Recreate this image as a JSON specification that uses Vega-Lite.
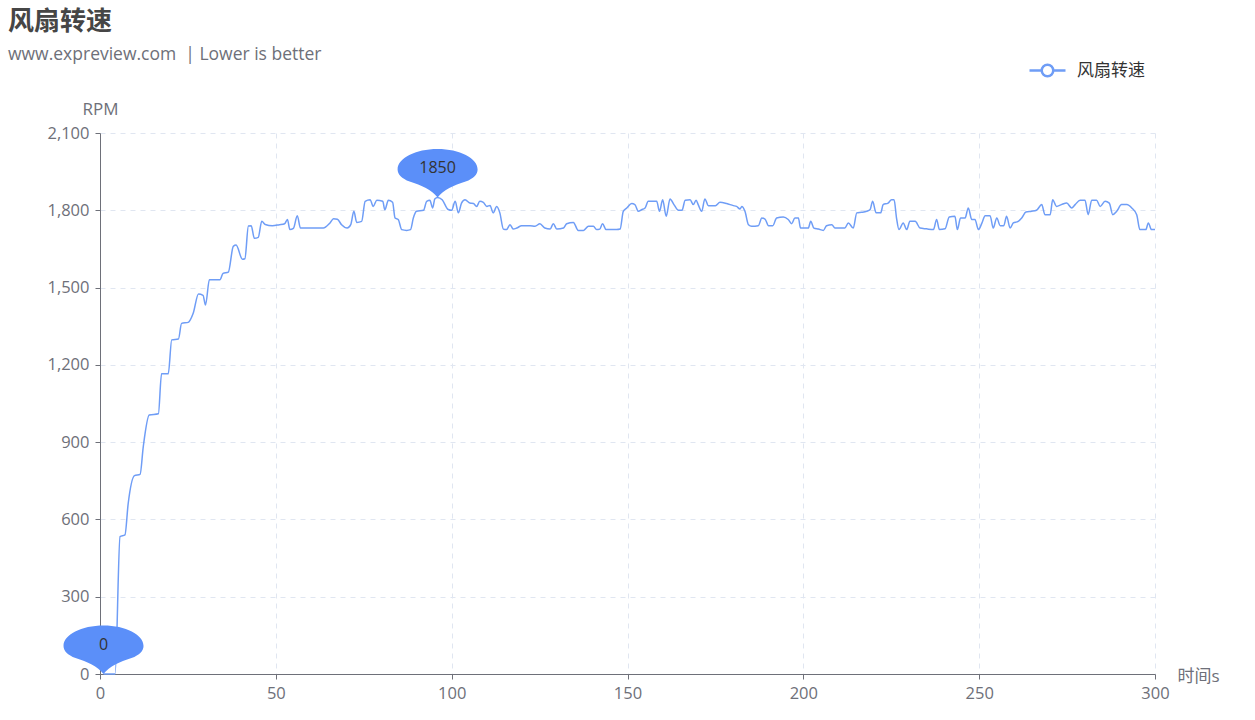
{
  "$schema": "https://vega.github.io/schema/vega-lite/v6.json",
  "width": 1055,
  "height": 541,
  "autosize": {"type": "none"},
  "padding": {"left": 100, "top": 133, "right": 100, "bottom": 46},
  "background": "white",
  "title": {
    "text": "风扇转速",
    "subtitle": "www.expreview.com\u00a0\u00a0| Lower is better",
    "anchor": "start",
    "frame": "group",
    "dx": -92,
    "offset": -12,
    "fontSize": 26,
    "fontWeight": "bold",
    "color": "#464646",
    "font": "Noto Sans CJK SC",
    "subtitleFont": "Open Sans, Noto Sans CJK SC",
    "subtitleFontSize": 17.5,
    "subtitleColor": "#6e7079",
    "subtitlePadding": 11
  },
  "config": {
    "view": {"stroke": null},
    "font": "Open Sans, Noto Sans CJK SC",
    "axis": {
      "labelFont": "Open Sans, Noto Sans CJK SC",
      "labelFontSize": 16.5,
      "labelColor": "#6e7079",
      "titleFont": "Open Sans, Noto Sans CJK SC",
      "titleFontSize": 17,
      "titleFontWeight": "normal",
      "titleColor": "#6e7079",
      "domainColor": "#6e7079",
      "tickColor": "#6e7079",
      "tickSize": 5,
      "gridColor": "#e0e6f1",
      "gridDash": [5, 5],
      "gridWidth": 1
    }
  },
  "layer": [
    {
      "data": {
        "values": [
          {"t":1,"v":0},{"t":2,"v":0},{"t":3,"v":0},{"t":4,"v":0},{"t":4.3,"v":0},{"t":5.7,"v":533},{"t":7.1,"v":540},{"t":8,"v":660},{"t":9.8,"v":770},{"t":11.4,"v":775},{"t":12.3,"v":882},{"t":14,"v":1005},{"t":16.6,"v":1010},{"t":17.5,"v":1165},{"t":19.4,"v":1165},{"t":20.4,"v":1297},{"t":22.3,"v":1300},{"t":23.2,"v":1361},{"t":25.1,"v":1365},{"t":26.5,"v":1400},{"t":28,"v":1475},{"t":29.3,"v":1470},{"t":30,"v":1432},{"t":31.1,"v":1530},{"t":34.1,"v":1530},{"t":35,"v":1555},{"t":36.5,"v":1560},{"t":37.9,"v":1660},{"t":38.7,"v":1665},{"t":40.5,"v":1610},{"t":41.2,"v":1612},{"t":42.2,"v":1739},{"t":43,"v":1740},{"t":43.9,"v":1691},{"t":45,"v":1695},{"t":46,"v":1757},{"t":47,"v":1745},{"t":49,"v":1740},{"t":51,"v":1744},{"t":52.5,"v":1748},{"t":53.3,"v":1764},{"t":54,"v":1725},{"t":55,"v":1730},{"t":56.1,"v":1779},{"t":57,"v":1731},{"t":58,"v":1731},{"t":63.5,"v":1731},{"t":65.4,"v":1751},{"t":66.4,"v":1767},{"t":67.5,"v":1765},{"t":68.7,"v":1744},{"t":70.3,"v":1731},{"t":71.3,"v":1744},{"t":72.2,"v":1796},{"t":73,"v":1753},{"t":74.4,"v":1757},{"t":75.4,"v":1835},{"t":76.8,"v":1841},{"t":77.7,"v":1815},{"t":78.7,"v":1839},{"t":80.4,"v":1835},{"t":81,"v":1802},{"t":82,"v":1839},{"t":83.2,"v":1831},{"t":83.9,"v":1770},{"t":84.8,"v":1764},{"t":85.8,"v":1725},{"t":87.2,"v":1722},{"t":88.3,"v":1725},{"t":89.1,"v":1770},{"t":90,"v":1796},{"t":92,"v":1800},{"t":92.9,"v":1835},{"t":93.8,"v":1839},{"t":94.6,"v":1809},{"t":95.2,"v":1844},{"t":96,"v":1850},{"t":97.3,"v":1841},{"t":99,"v":1803},{"t":100,"v":1800},{"t":101,"v":1835},{"t":101.9,"v":1790},{"t":102.8,"v":1828},{"t":103.8,"v":1841},{"t":105.2,"v":1828},{"t":106.2,"v":1826},{"t":107.1,"v":1815},{"t":108,"v":1835},{"t":109,"v":1831},{"t":110,"v":1815},{"t":110.9,"v":1819},{"t":111.8,"v":1790},{"t":112.8,"v":1815},{"t":113.7,"v":1790},{"t":114.7,"v":1727},{"t":115.6,"v":1725},{"t":116.6,"v":1744},{"t":117.5,"v":1727},{"t":118.5,"v":1731},{"t":119.9,"v":1740},{"t":122.3,"v":1740},{"t":123.7,"v":1738},{"t":125.1,"v":1748},{"t":126.5,"v":1731},{"t":128,"v":1727},{"t":128.9,"v":1748},{"t":129.9,"v":1727},{"t":131.8,"v":1731},{"t":132.7,"v":1748},{"t":134.6,"v":1753},{"t":136,"v":1722},{"t":137.5,"v":1722},{"t":138.9,"v":1738},{"t":140.3,"v":1738},{"t":141.2,"v":1725},{"t":142.1,"v":1727},{"t":142.9,"v":1748},{"t":143.9,"v":1725},{"t":146.9,"v":1725},{"t":147.9,"v":1727},{"t":148.8,"v":1796},{"t":149.8,"v":1809},{"t":151.2,"v":1826},{"t":152.1,"v":1822},{"t":153.1,"v":1796},{"t":154,"v":1802},{"t":155,"v":1809},{"t":155.9,"v":1835},{"t":158.3,"v":1835},{"t":159.1,"v":1796},{"t":160,"v":1841},{"t":161,"v":1777},{"t":162.1,"v":1844},{"t":163.2,"v":1822},{"t":164.5,"v":1800},{"t":165.5,"v":1800},{"t":166.4,"v":1839},{"t":167.8,"v":1841},{"t":168.7,"v":1822},{"t":169.5,"v":1839},{"t":170.1,"v":1822},{"t":171.1,"v":1796},{"t":172,"v":1844},{"t":173,"v":1818},{"t":175,"v":1818},{"t":176.3,"v":1831},{"t":178.2,"v":1826},{"t":180.1,"v":1818},{"t":181,"v":1815},{"t":182,"v":1805},{"t":182.5,"v":1815},{"t":183.4,"v":1796},{"t":184.4,"v":1744},{"t":185.3,"v":1738},{"t":187.2,"v":1740},{"t":188.2,"v":1770},{"t":189.1,"v":1766},{"t":190.1,"v":1740},{"t":191.3,"v":1740},{"t":192.4,"v":1770},{"t":194.3,"v":1774},{"t":195.7,"v":1764},{"t":196.7,"v":1748},{"t":197.6,"v":1770},{"t":198.6,"v":1770},{"t":199.2,"v":1731},{"t":201.4,"v":1731},{"t":202.1,"v":1757},{"t":203,"v":1731},{"t":204.3,"v":1727},{"t":205.7,"v":1722},{"t":206.6,"v":1740},{"t":208.1,"v":1744},{"t":209,"v":1731},{"t":211.8,"v":1731},{"t":212.8,"v":1751},{"t":214.2,"v":1731},{"t":215.2,"v":1790},{"t":216.6,"v":1792},{"t":218,"v":1796},{"t":219,"v":1803},{"t":219.7,"v":1835},{"t":220.7,"v":1790},{"t":222,"v":1790},{"t":222.7,"v":1822},{"t":224.1,"v":1828},{"t":225.1,"v":1841},{"t":225.8,"v":1841},{"t":226.5,"v":1770},{"t":227.2,"v":1725},{"t":228.4,"v":1751},{"t":229.4,"v":1725},{"t":230.3,"v":1757},{"t":231.8,"v":1757},{"t":233.2,"v":1731},{"t":235,"v":1728},{"t":237,"v":1725},{"t":237.9,"v":1764},{"t":238.7,"v":1725},{"t":240.3,"v":1728},{"t":241.5,"v":1774},{"t":243.1,"v":1777},{"t":243.8,"v":1725},{"t":244.7,"v":1770},{"t":246,"v":1770},{"t":246.9,"v":1809},{"t":247.9,"v":1764},{"t":248.8,"v":1764},{"t":249.8,"v":1725},{"t":250.8,"v":1751},{"t":251.7,"v":1779},{"t":253.1,"v":1779},{"t":254,"v":1731},{"t":255,"v":1770},{"t":256,"v":1740},{"t":257,"v":1740},{"t":257.8,"v":1777},{"t":258.8,"v":1731},{"t":259.7,"v":1751},{"t":261.1,"v":1757},{"t":262.1,"v":1770},{"t":263.3,"v":1793},{"t":264.9,"v":1796},{"t":266.3,"v":1800},{"t":267.8,"v":1822},{"t":268.7,"v":1783},{"t":270.2,"v":1783},{"t":270.9,"v":1841},{"t":272,"v":1815},{"t":273.4,"v":1822},{"t":274.9,"v":1828},{"t":276.3,"v":1809},{"t":277.3,"v":1822},{"t":278.7,"v":1839},{"t":280.1,"v":1839},{"t":281,"v":1783},{"t":282,"v":1839},{"t":283.4,"v":1839},{"t":284.4,"v":1815},{"t":285.8,"v":1835},{"t":287,"v":1828},{"t":288,"v":1783},{"t":289.1,"v":1796},{"t":290.5,"v":1822},{"t":292,"v":1822},{"t":293.4,"v":1809},{"t":294.8,"v":1783},{"t":295.7,"v":1725},{"t":297.4,"v":1725},{"t":298.1,"v":1751},{"t":299,"v":1725},{"t":300,"v":1725}
        ]
      },
      "transform": [{"calculate": "'风扇转速'", "as": "series"}],
      "mark": {"type": "line", "interpolate": "monotone", "strokeWidth": 1.5},
      "encoding": {
        "x": {
          "field": "t", "type": "quantitative",
          "scale": {"domain": [0, 300], "nice": false},
          "axis": {
            "values": [0, 50, 100, 150, 200, 250, 300],
            "title": "时间s",
            "titleAlign": "left",
            "titleBaseline": "middle",
            "titleX": 1077,
            "titleY": 2,
            "labelPadding": 6,
            "grid": true,
            "labelFlush": false
          }
        },
        "y": {
          "field": "v", "type": "quantitative",
          "scale": {"domain": [0, 2100], "nice": false},
          "axis": {
            "values": [0, 300, 600, 900, 1200, 1500, 1800, 2100],
            "format": ",d",
            "title": "RPM",
            "titleAngle": 0,
            "titleAlign": "center",
            "titleBaseline": "middle",
            "titleX": 0,
            "titleY": -24,
            "labelPadding": 6,
            "grid": true
          }
        },
        "color": {
          "field": "series", "type": "nominal",
          "scale": {"range": ["#6f9df6"]},
          "legend": {
            "title": null,
            "orient": "none",
            "legendX": 928,
            "legendY": -82,
            "padding": 0,
            "symbolType": "M-1,0L-0.32,0M0.32,0L1,0M0.32,0A0.32,0.32 0 1,1 -0.32,0A0.32,0.32 0 1,1 0.32,0",
            "symbolSize": 1296,
            "symbolStrokeWidth": 2.5,
            "symbolStrokeColor": "#5b8ff9",
            "symbolFillColor": "white",
            "labelFont": "Noto Sans CJK SC",
            "labelFontSize": 17,
            "labelColor": "#333333",
            "labelOffset": 10
          }
        }
      }
    },
    {
      "data": {"values": [{"t": 96, "v": 1850, "label": "1850"}, {"t": 1, "v": 0, "label": "0"}]},
      "mark": {
        "type": "point",
        "shape": "M0,0C-0.15,-0.2 -0.4,-0.3 -0.7,-0.4C-0.9,-0.47 -1,-0.58 -1,-0.7C-1,-0.98 -0.55,-1.21 0,-1.21C0.55,-1.21 1,-0.98 1,-0.7C1,-0.58 0.9,-0.47 0.7,-0.4C0.4,-0.3 0.15,-0.2 0,0Z",
        "size": 6400,
        "filled": true,
        "color": "#5b8ff9",
        "opacity": 1,
        "strokeWidth": 0,
        "clip": false
      },
      "encoding": {
        "x": {"field": "t", "type": "quantitative"},
        "y": {"field": "v", "type": "quantitative"}
      }
    },
    {
      "data": {"values": [{"t": 96, "v": 1850, "label": "1850"}, {"t": 1, "v": 0, "label": "0"}]},
      "mark": {
        "type": "text",
        "dy": -29,
        "fontSize": 16,
        "font": "Open Sans, Noto Sans CJK SC",
        "color": "#333333",
        "align": "center",
        "baseline": "middle",
        "clip": false
      },
      "encoding": {
        "x": {"field": "t", "type": "quantitative"},
        "y": {"field": "v", "type": "quantitative"},
        "text": {"field": "label", "type": "nominal"}
      }
    }
  ]
}
